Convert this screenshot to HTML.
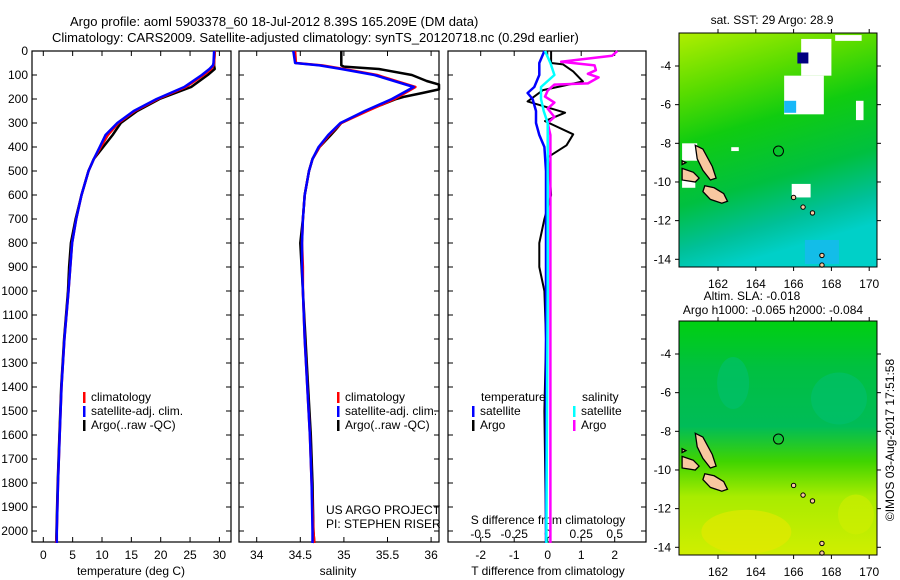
<!DOCTYPE html>
<html><head><meta charset="utf-8"><style>
html,body{margin:0;padding:0;background:#fff;}
svg{display:block;font-family:"Liberation Sans",sans-serif;}
text{fill:#000;font-size:12px;}
</style></head><body>
<svg id="fig" width="900" height="580" viewBox="0 0 900 580" xmlns="http://www.w3.org/2000/svg">
<defs>
<linearGradient id="g1" x1="0" y1="0" x2="0.25" y2="1">
<stop offset="0" stop-color="#b0ee00"/><stop offset="0.25" stop-color="#58dc00"/><stop offset="0.45" stop-color="#10cc10"/><stop offset="0.7" stop-color="#00c040"/><stop offset="0.88" stop-color="#00c098"/><stop offset="1" stop-color="#00d0c8"/>
</linearGradient>
<linearGradient id="g2" x1="0" y1="0" x2="0" y2="1">
<stop offset="0" stop-color="#00d010"/><stop offset="0.2" stop-color="#00c040"/><stop offset="0.45" stop-color="#00bc58"/><stop offset="0.6" stop-color="#40d400"/><stop offset="0.75" stop-color="#a8ec00"/><stop offset="1" stop-color="#d0ee00"/>
</linearGradient>
</defs>
<text x="70" y="26" style="font-size:13px">Argo profile: aoml 5903378_60 18-Jul-2012 8.39S 165.209E (DM data)</text>
<text x="52" y="42" style="font-size:13px">Climatology: CARS2009. Satellite-adjusted climatology: synTS_20120718.nc (0.29d earlier)</text>
<g id="p1"></g>
<g id="p2"></g>
<g id="p3"></g>
<g id="maps"></g>
</svg>
<script>
const depths=[0,50,60,75,100,150,200,250,300,350,400,450,500,600,700,800,900,1000,1200,1400,1600,1800,2000,2050];
const tempClim=[29.2,29.1,29.0,28.6,27.3,24.3,19.5,15.6,12.8,11.0,9.8,8.6,7.7,6.5,5.6,4.9,4.6,4.3,3.6,3.1,2.8,2.5,2.3,2.2];
const tempSat=[29.1,29.0,28.9,28.3,27.0,24.0,19.3,15.4,12.6,10.6,9.6,8.6,7.7,6.5,5.6,4.9,4.6,4.3,3.6,3.1,2.8,2.5,2.3,2.3];
const tempArgo=[29.2,29.1,29.1,29.2,28.0,25.2,19.8,16.0,13.2,11.8,10.2,8.6,7.7,6.5,5.5,4.7,4.4,4.2,3.55,3.05,2.75,2.45,2.25,2.2];
const salClim=[34.44,34.45,34.75,35.0,35.38,35.82,35.58,35.27,34.97,34.83,34.72,34.64,34.6,34.55,34.53,34.52,34.53,34.53,34.55,34.58,34.61,34.63,34.65,34.66];
const salSat=[34.42,34.44,34.72,34.97,35.35,35.8,35.55,35.24,34.96,34.82,34.71,34.64,34.6,34.55,34.53,34.52,34.52,34.53,34.55,34.58,34.61,34.63,34.64,34.64];
const argoSDepths=[0,60,65,75,100,125,140,160,175,190,200,250,300,330,350,400,450,500,600,700,800,1000,1200,1400,1600,1800,2000,2050];
const salArgo=[34.97,34.97,35.0,35.4,35.78,35.95,36.15,36.15,35.9,35.7,35.6,35.25,34.97,34.9,34.85,34.72,34.64,34.6,34.55,34.53,34.5,34.53,34.56,34.59,34.62,34.64,34.65,34.66];
const dTDepths=[0,50,56,85,127,163,210,257,292,347,393,443,500,600,700,800,900,1000,1200,1500,2000,2050];
const dTArgo=[0.1,0.1,0.46,0.76,1.05,-0.14,-0.6,0.52,-0.08,0.76,0.56,0.0,0.05,0.1,-0.1,-0.25,-0.25,-0.1,-0.05,-0.1,-0.05,-0.05];
const dTSatDepths=[0,50,100,150,175,200,250,300,350,400,500,1000,2000,2050];
const dTSat=[-0.1,-0.25,-0.25,-0.4,-0.6,-0.45,-0.35,-0.35,-0.25,-0.1,-0.05,-0.05,-0.05,-0.05];
const dSSatDepths=[0,50,100,150,200,250,300,500,1000,2000,2050];
const dSSat=[-0.02,0.02,0.05,-0.05,-0.05,-0.03,0.0,0.0,0.0,-0.01,-0.01];
const dSArgoDepths=[0,20,45,60,80,95,110,135,140,165,190,215,240,275,300,350,500,2000,2050];
const dSArgo=[0.52,0.48,0.1,0.35,0.36,0.3,0.38,0.3,0.05,0.0,-0.02,0.05,0.0,0.05,0.0,0.02,0.02,0.02,0.02];
const depthTicks=[0,100,200,300,400,500,600,700,800,900,1000,1100,1200,1300,1400,1500,1600,1700,1800,1900,2000];
const tempTicks=[0,5,10,15,20,25,30];
const salTicks=[34,34.5,35,35.5,36];
const salTickLabels=["34","34.5","35","35.5","36"];
const dTTicks=[-2,-1,0,1,2];
const dSTicks=[-0.5,-0.25,0,0.25,0.5];
const dSTickLabels=["-0.5","-0.25","0","0.25","0.5"];
const lonTicks=[162,164,166,168,170];
const latTicks=[-4,-6,-8,-10,-12,-14];

const NS="http://www.w3.org/2000/svg";
function mk(tag,attrs,parent,txt){const e=document.createElementNS(NS,tag);for(const k in attrs)e.setAttribute(k,attrs[k]);if(txt!==undefined)e.textContent=txt;parent.appendChild(e);return e;}
const Y0=51,DS=0.24,PT=51,PB=542;
const yD=d=>Y0+d*DS;
function panel(g,x0,x1){const r=mk('rect',{x:x0,y:PT,width:x1-x0,height:PB-PT,fill:'none',stroke:'#000','stroke-width':1.2},g);

depthTicks.forEach(d=>{mk('line',{x1:x0,x2:x0+5,y1:yD(d),y2:yD(d),stroke:'#000'},g);mk('line',{x1:x1,x2:x1-5,y1:yD(d),y2:yD(d),stroke:'#000'},g);});}
function line(g,xs,ds,fx,color,w,name){const pts=xs.map((v,i)=>fx(v).toFixed(1)+','+yD(ds[i]).toFixed(1)).join(' ');
const p=mk('polyline',{points:pts,fill:'none',stroke:color,'stroke-width':w,'stroke-linejoin':'round'},g);
}
function xticks(g,ticks,labels,fx,yLab){ticks.forEach((t,i)=>{const x=fx(t);mk('line',{x1:x,x2:x,y1:PT,y2:PT+5,stroke:'#000'},g);mk('line',{x1:x,x2:x,y1:PB,y2:PB-5,stroke:'#000'},g);
const tx=mk('text',{x:x,y:yLab,'text-anchor':'middle'},g,labels[i]);});}
function legend(g,x,y,items){items.forEach((it,i)=>{mk('rect',{x:x,y:y+i*14-9,width:2.5,height:11,fill:it[1]},g);const t=mk('text',{x:x+8,y:y+i*14},g,it[0]);});}

// Panel 1
const g1=document.getElementById('p1');
const fT=t=>43.3+t*5.87;
panel(g1,32,231);
depthTicks.forEach(d=>{const t=mk('text',{x:28,y:yD(d)+4,'text-anchor':'end'},g1,String(d));});
xticks(g1,tempTicks,tempTicks.map(String),fT,559);
line(g1,tempArgo,depths,fT,'#000',2.5,'temp-argo-line');
line(g1,tempClim,depths,fT,'#f00',2.5,'temp-climatology-line');
line(g1,tempSat,depths,fT,'#00f',2.5,'temp-satellite-line');
legend(g1,83,401,[['climatology','#f00'],['satellite-adj. clim.','#00f'],['Argo(..raw -QC)','#000']]);
mk('text',{x:131,y:575,'text-anchor':'middle'},g1,'temperature (deg C)');

// Panel 2
const g2=document.getElementById('p2');
const fS=s=>256.7+(s-34)*87.2;
panel(g2,239,439);
xticks(g2,salTicks,salTickLabels,fS,559);
line(g2,salArgo,argoSDepths,s=>Math.min(fS(s),439),'#000',2.5,'sal-argo-line');
line(g2,salClim,depths,fS,'#f00',2.5,'sal-climatology-line');
line(g2,salSat,depths,fS,'#00f',2.5,'sal-satellite-line');
legend(g2,337,401,[['climatology','#f00'],['satellite-adj. clim.','#00f'],['Argo(..raw -QC)','#000']]);
mk('text',{x:326,y:514},g2,'US ARGO PROJECT');
mk('text',{x:326,y:528},g2,'PI: STEPHEN RISER');
mk('text',{x:338,y:575,'text-anchor':'middle'},g2,'salinity');

// Panel 3
const g3=document.getElementById('p3');
const fdT=t=>547.7+t*33.5;
const fdS=s=>547.7+s*134;
panel(g3,448,646);
xticks(g3,dTTicks,dTTicks.map(String),fdT,559);
dSTicks.forEach((s,i)=>{const t=mk('text',{x:fdS(s),y:538,'text-anchor':'middle'},g3,dSTickLabels[i]);});
mk('text',{x:548,y:524,'text-anchor':'middle'},g3,'S difference from climatology');
mk('text',{x:548,y:575,'text-anchor':'middle'},g3,'T difference from climatology');
line(g3,dTArgo,dTDepths,fdT,'#000',2,'t-diff-argo-line');
line(g3,dSArgo,dSArgoDepths,fdS,'#f0f',2.5,'s-diff-argo-line');
line(g3,dTSat,dTSatDepths,fdT,'#00f',2.5,'t-diff-satellite-line');
line(g3,dSSat,dSSatDepths,fdS,'#0ff',2.5,'s-diff-satellite-line');
mk('text',{x:481,y:401},g3,'temperature');
mk('text',{x:582,y:401},g3,'salinity');
legend(g3,472,415,[['satellite','#00f'],['Argo','#000']]);
legend(g3,573,415,[['satellite','#0ff'],['Argo','#f0f']]);

// Maps
const gm=document.getElementById('maps');
const fLon=l=>718+(l-162)*18.9;
function map(top,grad,title1,title2,extra){
 const fLat=la=>top+33+(-4-la)*19.33;
 const x0=679,x1=877,y0=top,y1=top+234;
 mk('rect',{x:x0,y:y0,width:x1-x0,height:y1-y0,fill:'url(#'+grad+')'},gm);
 extra(fLat);
 [[[160.8,-8.1],[161.2,-8.3],[161.7,-9.2],[161.9,-9.8],[161.6,-9.9],[161.2,-9.4],[160.9,-8.8]],
  [[161.3,-10.2],[161.8,-10.3],[162.3,-10.6],[162.5,-11.0],[162.2,-11.1],[161.6,-10.9],[161.2,-10.5]],
  [[160.1,-9.3],[160.7,-9.5],[161.0,-9.8],[160.8,-10.0],[160.1,-9.9]],
  [[160.1,-8.9],[160.3,-9.0],[160.1,-9.1]]].forEach(poly=>{
  const p=mk('polygon',{points:poly.map(q=>fLon(q[0]).toFixed(1)+','+fLat(q[1]).toFixed(1)).join(' '),fill:'#f8c8a0',stroke:'#000','stroke-width':1.3},gm);});
 [[166,-10.8],[167,-11.6],[167.5,-14.3],[167.5,-13.8],[166.5,-11.3]].forEach(q=>{const c=mk('circle',{cx:fLon(q[0]),cy:fLat(q[1]),r:2.2,fill:'#f8c8a0',stroke:'#000'},gm);});
 const c=mk('circle',{cx:fLon(165.2),cy:fLat(-8.4),r:5,fill:'none',stroke:'#000'},gm);
 mk('rect',{x:x0,y:y0,width:x1-x0,height:y1-y0,fill:'none',stroke:'#000'},gm);
 lonTicks.forEach(l=>{mk('line',{x1:fLon(l),x2:fLon(l),y1:y0,y2:y0-4,stroke:'#000'},gm);mk('line',{x1:fLon(l),x2:fLon(l),y1:y1,y2:y1+4,stroke:'#000'},gm);
  const t=mk('text',{x:fLon(l),y:y1+21,'text-anchor':'middle'},gm,String(l));});
 latTicks.forEach(la=>{mk('line',{x1:x0,x2:x0-4,y1:fLat(la),y2:fLat(la),stroke:'#000'},gm);mk('line',{x1:x1,x2:x1+4,y1:fLat(la),y2:fLat(la),stroke:'#000'},gm);
  const t=mk('text',{x:671,y:fLat(la)+4,'text-anchor':'end'},gm,String(la));});
 if(title2){mk('text',{x:752,y:top-21,'text-anchor':'middle'},gm,title1);mk('text',{x:773,y:top-7,'text-anchor':'middle'},gm,title2);}
 else mk('text',{x:772,y:top-9,'text-anchor':'middle'},gm,title1);
}
map(33,'g1','sat. SST: 29 Argo: 28.9',null,fLat=>{
 [[166.4,-2.6,168,-4.5],[165.5,-4.5,167.6,-6.5],[168.2,-2.4,169.6,-2.7],[169.3,-5.8,169.7,-6.8],[160.1,-8,160.9,-8.9],[160.1,-9.8,160.8,-10.3],[165.9,-10.1,166.9,-10.8],[162.7,-8.2,163.1,-8.4]].forEach(r=>{mk('rect',{x:fLon(r[0]),y:fLat(r[1]),width:fLon(r[2])-fLon(r[0]),height:fLat(r[3])-fLat(r[1]),fill:'#fff'},gm);});
 mk('rect',{x:fLon(166.2),y:fLat(-3.3),width:11,height:11,fill:'#000080'},gm);
 mk('rect',{x:fLon(165.5),y:fLat(-5.8),width:12,height:12,fill:'#18b8f8'},gm);
 mk('rect',{x:fLon(166.6),y:fLat(-13.0),width:34,height:24,fill:'#18b8f0',opacity:0.8},gm);
});
map(321,'g2','Altim. SLA: -0.018','Argo h1000: -0.065 h2000: -0.084',fLat=>{
 mk('ellipse',{cx:fLon(162.8),cy:fLat(-5.5),rx:16,ry:26,fill:'#00c070',opacity:0.6},gm);
 mk('ellipse',{cx:fLon(168.4),cy:fLat(-6.3),rx:28,ry:26,fill:'#00c070',opacity:0.6},gm);
 mk('ellipse',{cx:fLon(163.5),cy:fLat(-13.2),rx:45,ry:22,fill:'#e8e800',opacity:0.6},gm);
 mk('ellipse',{cx:fLon(169.3),cy:fLat(-12.3),rx:18,ry:20,fill:'#d0ee00',opacity:0.6},gm);
});
const ts=mk('text',{x:894,y:440,transform:'rotate(-90 894 440)','text-anchor':'middle'},gm,'©IMOS 03-Aug-2017 17:51:58');


</script>
</body></html>
